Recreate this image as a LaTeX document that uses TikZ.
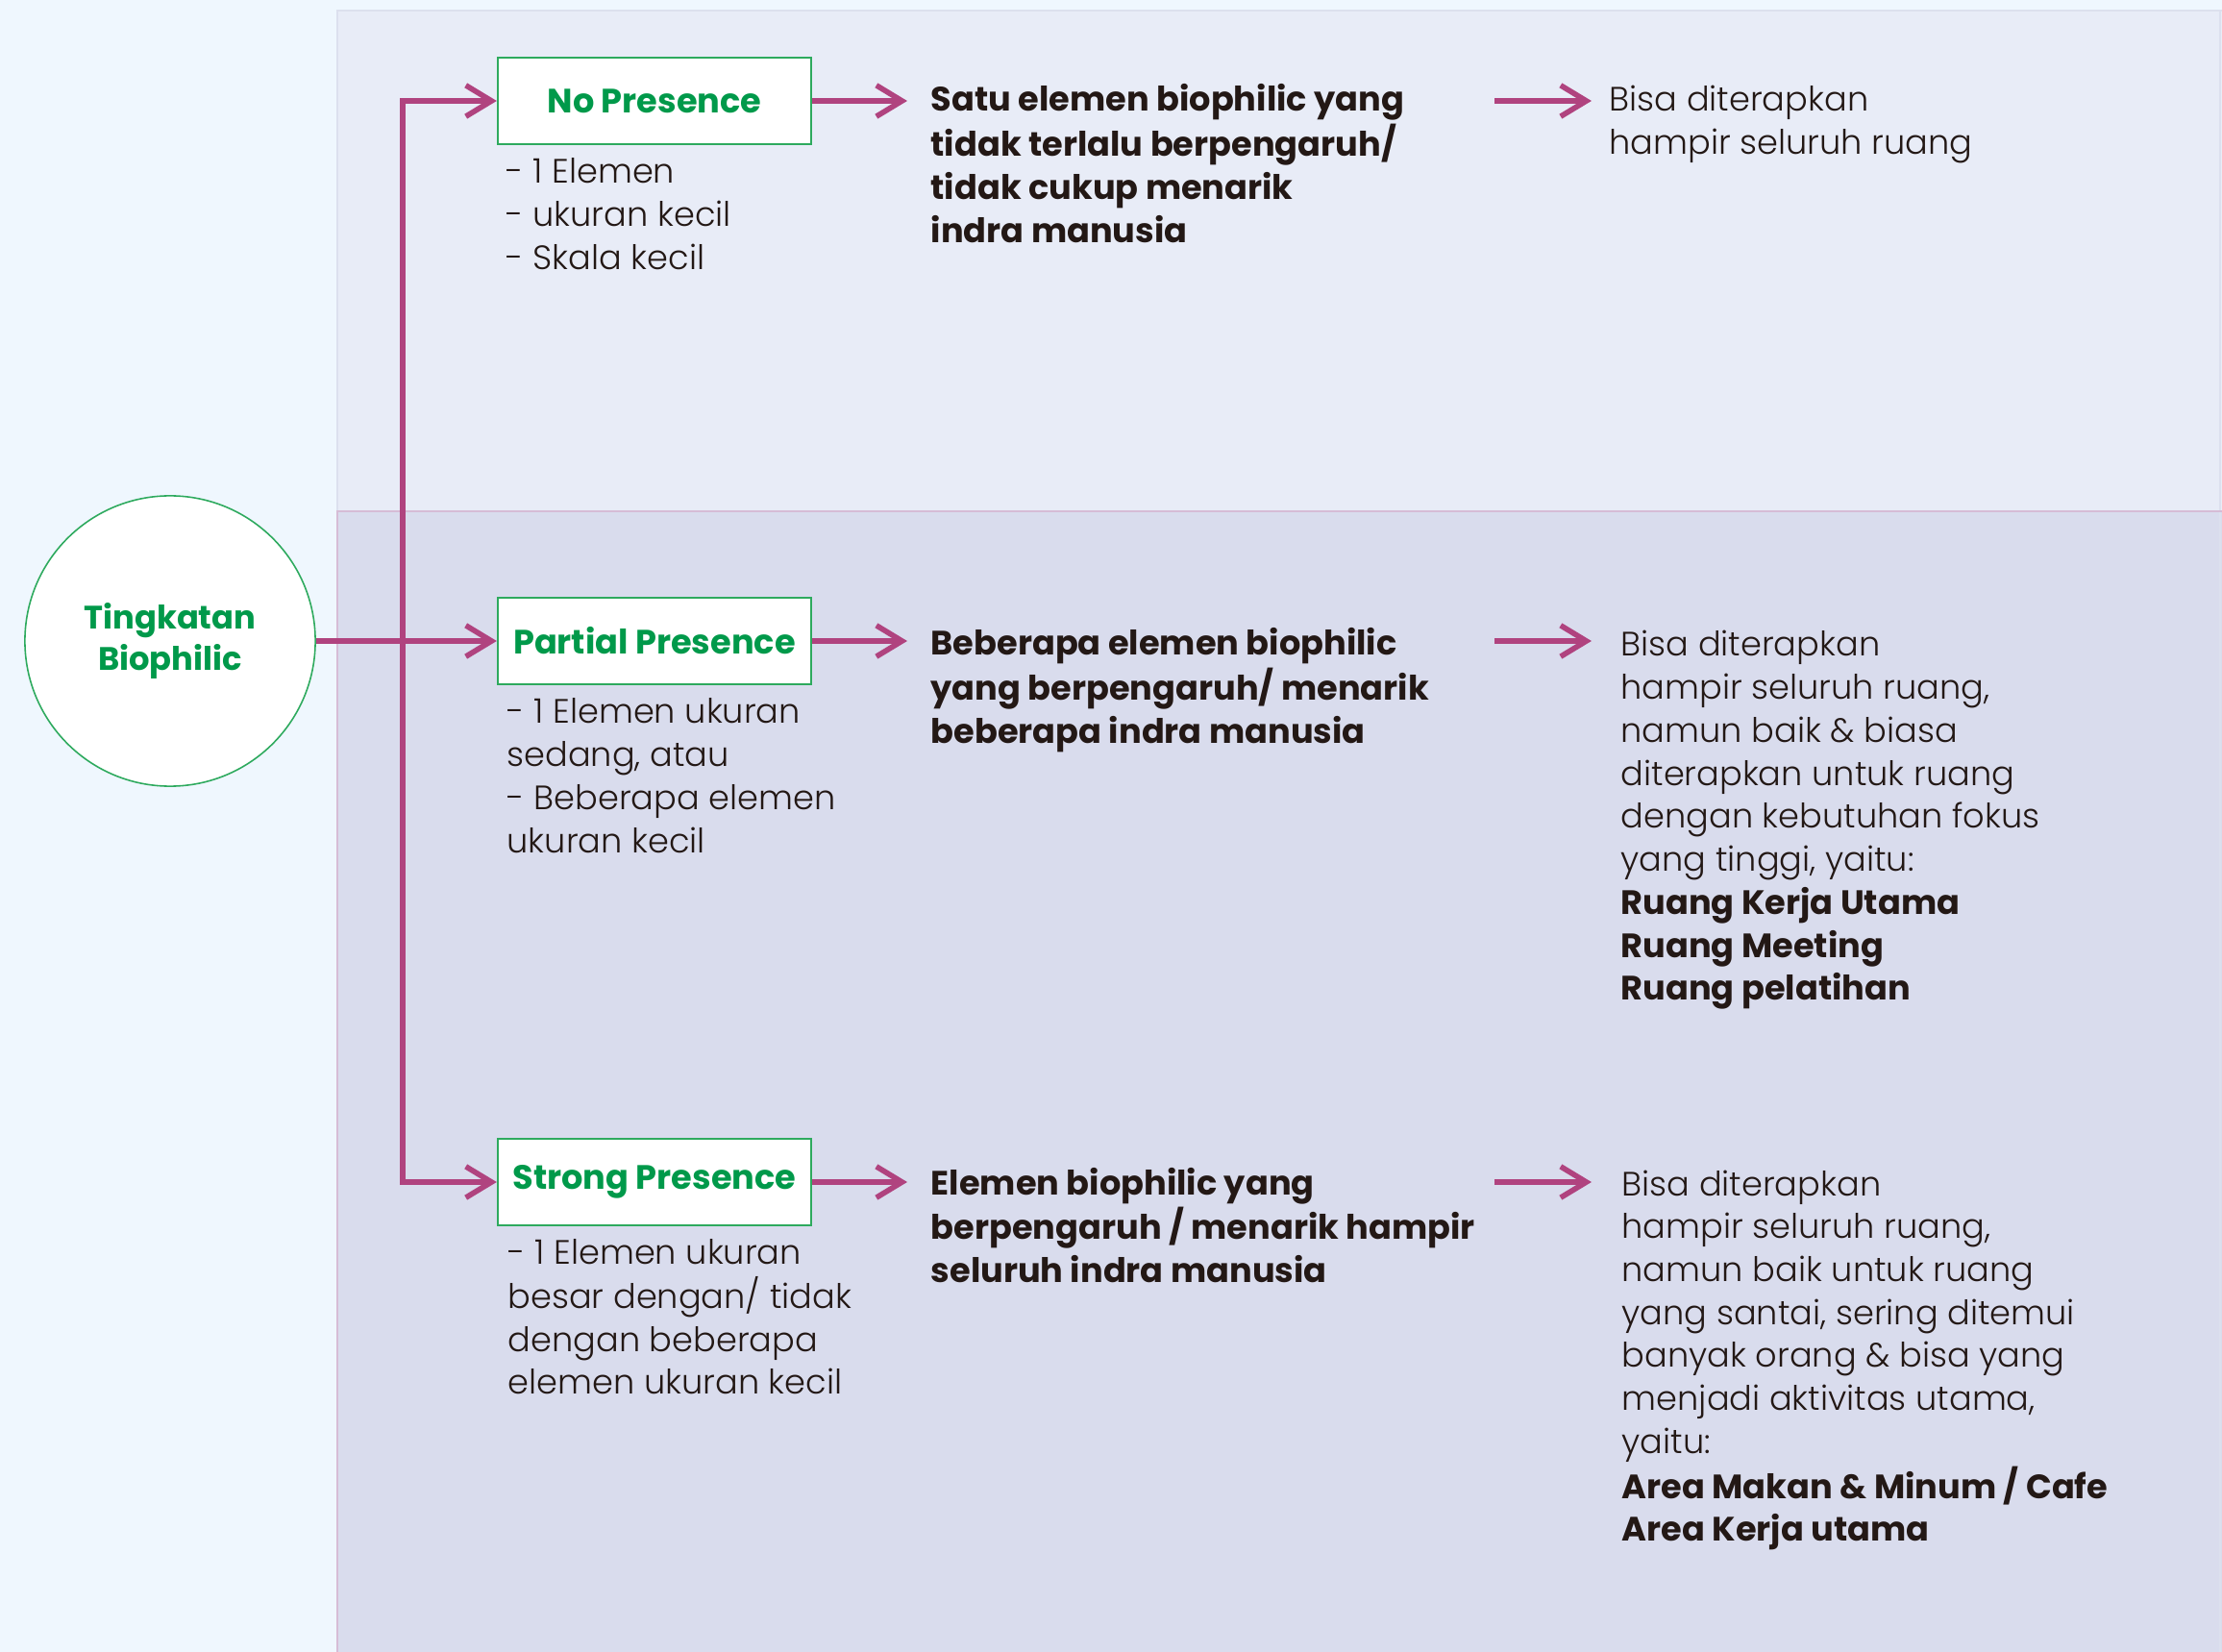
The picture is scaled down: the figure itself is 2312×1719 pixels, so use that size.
\documentclass[tikz,border=0pt]{standalone}
\usepackage{fontspec}
\IfFontExistsTF{Poppins Light}
  {\setmainfont{Poppins}[UprightFont=* Light, BoldFont=* Bold]}
  {\setmainfont{Poppins}}
\usetikzlibrary{arrows.meta}

\definecolor{outerbg}{HTML}{EFF7FE}
\definecolor{upperbg}{HTML}{E8ECF7}
\definecolor{lowerbg}{HTML}{D9DCED}
\definecolor{panelline}{HTML}{DCE0EE}
\definecolor{dividerline}{HTML}{D6BCD6}
\definecolor{magentaline}{HTML}{B0437F}
\definecolor{leafgreen}{HTML}{00994A}
\definecolor{boxgreen}{HTML}{2EAA5E}
\definecolor{inkdark}{HTML}{231815}

% lines stacked with the baseline of the first one as reference
\newcommand\lineset[1]{\begin{tabular}[t]{@{}l@{}}#1\end{tabular}}

\tikzset{
  conn/.style={draw=magentaline, line width=1.65pt,
    -{Straight Barb[length=7.6pt,width=9.2pt,line width=1.6pt]}},
  levelbox/.style={draw=boxgreen, line width=0.6pt, fill=white, rectangle,
    minimum width=3.26cm, minimum height=0.9cm, inner sep=0pt,
    text=leafgreen, font=\fontsize{10pt}{12.72pt}\selectfont\bfseries},
  hub/.style={draw=boxgreen, line width=0.45pt, fill=white, circle,
    minimum size=3.02cm, inner sep=0pt},
  hubtext/.style={anchor=base, inner sep=0pt, align=center,
    text=leafgreen, font=\fontsize{9.6pt}{12.2pt}\selectfont\bfseries},
  note/.style={anchor=base west, inner sep=0pt, text=inkdark,
    font=\fontsize{10pt}{12.72pt}\selectfont},
  keynote/.style={note, font=\fontsize{10pt}{12.72pt}\selectfont\bfseries}
}

\begin{document}
\begin{tikzpicture}[x=0.01cm, y=-0.01cm]
  % canvas and the two horizontal bands
  \useasboundingbox (0,0) rectangle (2312,1719);
  \fill[outerbg] (0,0) rectangle (2312,1719);
  \fill[upperbg] (350,11) rectangle (2312,532);
  \fill[lowerbg] (350,532) rectangle (2312,1719);
  \draw[panelline, line width=0.6pt] (351,532) -- (351,11) -- (2312,11);
  \draw[panelline, line width=0.6pt] (2310,11) -- (2310,1719);
  \draw[dividerline, line width=0.6pt] (351,532) -- (351,1719);
  \draw[dividerline, line width=0.6pt] (350,532) -- (2312,532);

  % central hub and the three presence levels
  \node[hub] (hub) at (177,667) {};
  \node[hubtext] (hubname) at (177,655) {\lineset{\hfil Tingkatan\hfil\\\hfil Biophilic\hfil}};
  \node[levelbox] (lvlA) at (681,105) {No Presence};
  \node[levelbox] (lvlB) at (681,667) {Partial Presence};
  \node[levelbox] (lvlC) at (681,1230) {Strong Presence};

  % branching trunk
  \coordinate (jtop) at (419,105);
  \coordinate (jbot) at (419,1230);
  \draw[conn] (jbot) -- (jtop) -- (lvlA.west);
  \draw[conn] (jtop) -- (jbot) -- (lvlC.west);
  \draw[conn] (hub.east) -- (lvlB.west);

  % notes under each level
  \node[note] (listA) at (526,191) {\lineset{- 1 Elemen\\- ukuran kecil\\- Skala kecil}};
  \node[note] (listB) at (527,753) {\lineset{- 1 Elemen ukuran\\sedang, atau\\- Beberapa elemen\\ukuran kecil}};
  \node[note] (listC) at (528,1315) {\lineset{- 1 Elemen ukuran\\besar dengan/ tidak\\dengan beberapa\\elemen ukuran kecil}};

  % descriptions
  \node[keynote] (descA) at (968,116) {\lineset{Satu elemen biophilic yang\\tidak terlalu berpengaruh/\\tidak cukup menarik\\indra manusia}};
  \node[keynote] (descB) at (968,682) {\lineset{Beberapa elemen biophilic\\yang berpengaruh/ menarik\\beberapa indra manusia}};
  \node[keynote] (descC) at (968,1243) {\lineset{Elemen biophilic yang\\berpengaruh / menarik hampir\\seluruh indra manusia}};

  \draw[conn] (lvlA.east) -- (lvlA.east -| 944,0);
  \draw[conn] (lvlB.east) -- (lvlB.east -| 944,0);
  \draw[conn] (lvlC.east) -- (lvlC.east -| 944,0);

  % where each level applies
  \node[note] (useA) at (1674,116) {\lineset{Bisa diterapkan\\hampir seluruh ruang}};
  \node[note] (useB) at (1686,683) {\lineset{Bisa diterapkan\\hampir seluruh ruang,\\namun baik \& biasa\\diterapkan untuk ruang\\dengan kebutuhan fokus\\yang tinggi, yaitu:\\\textbf{Ruang Kerja Utama}\\\textbf{Ruang Meeting}\\\textbf{Ruang pelatihan}}};
  \node[note] (useC) at (1687,1244) {\lineset{Bisa diterapkan\\hampir seluruh ruang,\\namun baik untuk ruang\\yang santai, sering ditemui\\banyak orang \& bisa yang\\menjadi aktivitas utama,\\yaitu:\\\textbf{Area Makan \& Minum / Cafe}\\\textbf{Area Kerja utama}}};

  \coordinate (sA) at (1555,105);  \coordinate (eA) at (1656,105);
  \coordinate (sB) at (1555,667);  \coordinate (eB) at (1656,667);
  \coordinate (sC) at (1555,1230); \coordinate (eC) at (1656,1230);
  \draw[conn] (sA) -- (eA);
  \draw[conn] (sB) -- (eB);
  \draw[conn] (sC) -- (eC);
\end{tikzpicture}
\end{document}
